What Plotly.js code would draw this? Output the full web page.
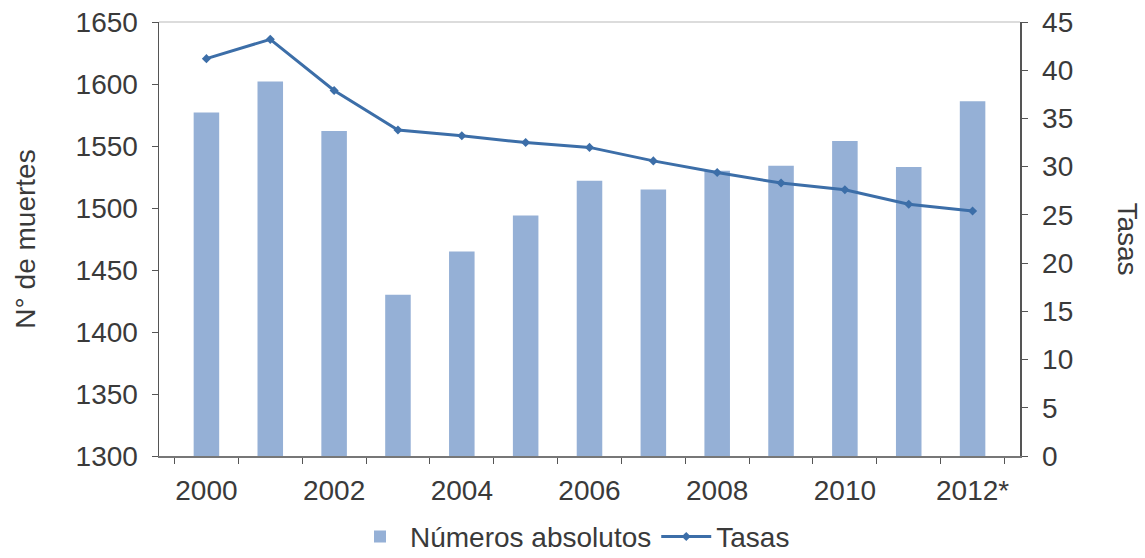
<!DOCTYPE html>
<html>
<head>
<meta charset="utf-8">
<script src="https://cdn.plot.ly/plotly-3.0.1.min.js"></script>
<style>html,body{margin:0;padding:0;background:#fff;}#chart{width:1145px;height:558px;}</style>
</head>
<body>
<div id="chart"></div>
<script>
const years = ["2000","2001","2002","2003","2004","2005","2006","2007","2008","2009","2010","2011","2012*"];
const tickLabels = ["2000","","2002","","2004","","2006","","2008","","2010","","2012*"];
const muertes = [1577, 1602, 1562, 1430, 1465, 1494, 1522, 1515, 1530, 1534, 1554, 1533, 1586];
const tasas = [41.2, 43.2, 37.9, 33.8, 33.2, 32.5, 32.0, 30.6, 29.4, 28.3, 27.6, 26.1, 25.4];

const font = {family: "Liberation Sans, Arial, sans-serif", size: 28, color: "#3a3a3a"};

const data = [
  {type: "bar", name: "Números absolutos", x: years, y: muertes,
   marker: {color: "#95B0D6"}, yaxis: "y"},
  {type: "scatter", mode: "lines+markers", name: "Tasas", x: years, y: tasas,
   yaxis: "y2", line: {color: "#3C6EA8", width: 3},
   marker: {symbol: "diamond", size: 7, color: "#3C6EA8"}}
];

const layout = {
  width: 1145, height: 558,
  margin: {l: 159, r: 125, t: 22, b: 102, autoexpand: false},
  paper_bgcolor: "#fff", plot_bgcolor: "#fff",
  font: font,
  bargap: 0.6,
  showlegend: true,
  legend: {orientation: "h", x: 0.5, xanchor: "center", xref: "container",
           y: 0.038, yanchor: "middle", yref: "container",
           font: font, traceorder: "normal", itemwidth: 50},
  xaxis: {type: "category", tickvals: years, ticktext: tickLabels, tickson: "boundaries",
          tickangle: 0, automargin: false, ticklabelstandoff: 9,
          ticks: "outside", ticklen: 6, tickcolor: "#555", showline: true, linecolor: "#777",
          linewidth: 1.5, showgrid: false, tickfont: font, fixedrange: true},
  yaxis: {range: [1300, 1650], dtick: 50, ticks: "outside", ticklen: 6, tickcolor: "#555",
          automargin: false, ticklabelstandoff: 8,
          showline: true, linecolor: "#555", linewidth: 1.5, showgrid: false, zeroline: false,
          tickfont: font, title: {text: "N° de muertes", font: font, standoff: 32}},
  yaxis2: {range: [0, 45], dtick: 5, overlaying: "y", side: "right", ticks: "outside",
           automargin: false, ticklabelstandoff: 9,
           ticklen: 6, tickcolor: "#555", showline: true, linecolor: "#555", linewidth: 1.5,
           showgrid: false, zeroline: false, tickfont: font},
  shapes: [{type: "line", xref: "paper", yref: "paper", x0: 0, x1: 1, y0: 1, y1: 1,
            line: {color: "#d0d0d0", width: 1.5}}],
  annotations: [{text: "Tasas", xref: "paper", yref: "paper", x: 1.125, y: 0.5,
                 xanchor: "center", yanchor: "middle", textangle: 90, showarrow: false, font: font}]
};

Plotly.newPlot("chart", data, layout, {displayModeBar: false, staticPlot: true});
</script>
</body>
</html>
